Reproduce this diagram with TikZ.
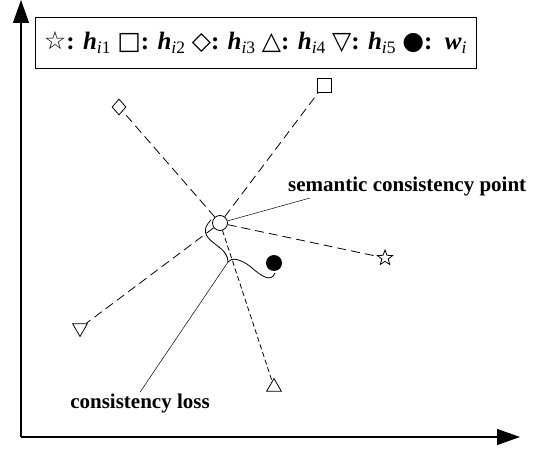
\documentclass[tikz,border=0pt]{standalone}
\usepackage{fontspec}
\setmainfont{Liberation Serif}
\newfontfamily\symfont{DejaVu Sans}
\usetikzlibrary{arrows.meta,positioning,shapes.geometric}

\newcommand{\hvec}[1]{\textbf{\textit{h}}\textsubscript{\textit{i}#1}}
\newcommand{\msym}[1]{{\symfont\fontsize{25}{27}\selectfont #1}}

\begin{document}
\begin{tikzpicture}[x=1pt, y=-1pt,
  axis/.style={-{Triangle[length=23pt, width=16pt]}, line width=1.2pt},
  hmark/.style={draw, line width=0.8pt, inner sep=0pt},
  link/.style={dash pattern=on 9pt off 5pt, line width=0.8pt},
  finelink/.style={dash pattern=on 5pt off 3pt, line width=0.8pt},
  lead/.style={line width=0.5pt},
  lab/.style={font=\fontsize{21}{23}\selectfont\bfseries, inner sep=1pt},
]
\useasboundingbox (0,0) rectangle (541,454);

% axes
\coordinate (orig) at (21,437);
\coordinate (ytip) at (21,0);
\coordinate (xtip) at (520,437);
\draw[axis] (orig) -- (ytip);
\draw[axis] (orig) -- (xtip);

% legend
\node[draw, line width=0.8pt, minimum width=441pt, minimum height=51pt, inner sep=0pt,
      font=\fontsize{25}{28}\selectfont] (legend) at (255.5,42.5)
  {\msym{☆}\textbf{:} \hvec{1} \msym{□}\textbf{:} \hvec{2} \msym{◇}\textbf{:} \hvec{3}
   \msym{△}\textbf{:} \hvec{4} \msym{▽}\textbf{:} \hvec{5} \msym{●}\textbf{:}\ \ \textbf{\textit{w}}\textsubscript{\textit{i}}};

% points
\node[hmark, circle, minimum size=15pt] (scp) at (220,223) {};
\node[hmark, star, star points=5, star point ratio=2.4, minimum size=16pt] (h1) at (385,258) {};
\node[hmark, rectangle, minimum size=14pt] (h2) at (324,85) {};
\node[hmark, diamond, minimum width=14pt, minimum height=16pt] (h3) at (119,107) {};
\node[hmark, regular polygon, regular polygon sides=3, minimum size=17pt] (h4) at (274,387) {};
\node[hmark, regular polygon, regular polygon sides=3, shape border rotate=180, minimum size=17pt] (h5) at (80,328) {};
\node[circle, fill=black, minimum size=16pt, inner sep=0pt] (w) at (274,263) {};

% links to the consistency point
\draw[link] (scp) -- (h1);
\draw[link] (scp) -- (h2);
\draw[link] (scp) -- (h3);
\draw[finelink] (scp) -- (h4);
\draw[link] (scp) -- (h5);

% consistency loss brace
\coordinate (cusp) at (228,262);
\draw[line width=0.8pt] (211,220) .. controls (202,229) and (204,236) .. (215,244)
  .. controls (225,251) and (228,256) .. (cusp)
  .. controls (231,257) and (241,259) .. (251,267)
  .. controls (261,276) and (271,283) .. (275,273);

% labels
\node[lab, anchor=base west] (semlab) at (287,192) {semantic consistency point};
\coordinate (semend) at (310,198);
\draw[lead] (scp) -- (semend);
\node[lab, anchor=base] (losslab) at (140,408) {consistency loss};
\draw[lead] (cusp) -- (losslab.north);
\end{tikzpicture}
\end{document}
